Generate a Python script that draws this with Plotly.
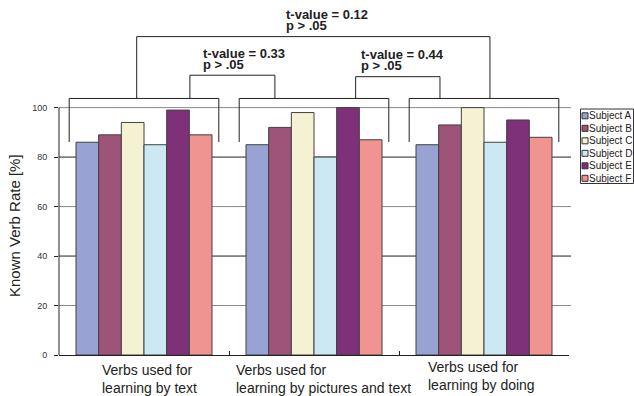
import plotly.graph_objects as go

# Known verb rate [%] per subject for each verb category
categories = [
    "Verbs used for<br>learning by text",
    "Verbs used for<br>learning by pictures and text",
    "Verbs used for<br>learning by doing",
]
subjects = ["Subject A", "Subject B", "Subject C", "Subject D", "Subject E", "Subject F"]
subject_a = [86, 85, 85]
subject_b = [89, 92, 93]
subject_c = [94, 98, 100]
subject_d = [85, 80, 86]
subject_e = [99, 100, 95]
subject_f = [89, 87, 88]
series = [subject_a, subject_b, subject_c, subject_d, subject_e, subject_f]

# Paired t-tests between categories: (first category, second category, t-value)
t_tests = [(0, 1, 0.33), (1, 2, 0.44), (0, 2, 0.12)]
p_text = "p > .05"

y_ticks = [0, 20, 40, 60, 80, 100]

colors = ["#98a3d3", "#9e5478", "#f4f2d3", "#cbe8f3", "#7e3179", "#ef9491"]
outline = "#404040"

# Figure geometry (pixels)
W, H = 634, 396
ML, MR, MT, MB = 59, 65, 0, 41
PW, PH = W - ML - MR, H - MT - MB
Y_MAX = 143.5


def px_x(px):
    return (px - ML) / PW


def px_y(py):
    return (H - MB - py) / PH


fig = go.Figure()
x_pos = list(range(len(categories)))
for name, vals, col in zip(subjects, series, colors):
    fig.add_trace(go.Bar(
        x=x_pos, y=vals, name=name,
        marker=dict(color=col, line=dict(color=outline, width=1)),
        hoverinfo="x+y+name",
    ))

shapes = []
# Horizontal guide lines, alternating grey and black
for i, v in enumerate(y_ticks[1:]):
    shapes.append(dict(
        type="line", xref="paper", yref="y", x0=0, x1=px_x(571), y0=v, y1=v,
        line=dict(color="#222222" if i % 2 == 1 else "#8a8a8a", width=1),
        layer="below",
    ))
# Left axis line, only over the 0-100 range
shapes.append(dict(type="line", xref="paper", yref="y", x0=0, x1=0, y0=0, y1=100,
                   line=dict(color="#222222", width=1)))

line_style = dict(color="#222222", width=1)
GROUP_HALF = 0.44
GROUP_TOP = 103.7
GROUP_LEG = 86.1


def bracket(x0, x1, top, bottom0, bottom1):
    shapes.append(dict(type="path", xref="x", yref="y",
                       path=f"M {x0},{bottom0} L {x0},{top} L {x1},{top} L {x1},{bottom1}",
                       line=line_style))


# Bracket over each category's group of bars
for c in x_pos:
    bracket(c - GROUP_HALF, c + GROUP_HALF, GROUP_TOP, GROUP_LEG, GROUP_LEG)

# Comparison brackets: leg x offsets from category centres, bracket height, label x
comp_layout = {
    (0, 1): dict(dx0=0.27, dx1=-0.23, top=113.1, label_x=0.34),
    (1, 2): dict(dx0=0.245, dx1=-0.259, top=112.5, label_x=1.27),
    (0, 2): dict(dx0=-0.043, dx1=0.035, top=128.7, label_x=0.83),
}

annotations = []
for a, b, t in t_tests:
    cl = comp_layout[(a, b)]
    bracket(a + cl["dx0"], b + cl["dx1"], cl["top"], GROUP_TOP, GROUP_TOP)
    for txt, shift in ((f"t-value = {t:.2f}", 22), (p_text, 11)):
        annotations.append(dict(
            x=cl["label_x"], y=cl["top"], xref="x", yref="y",
            xanchor="left", yanchor="middle", yshift=shift, borderpad=0,
            text=f"<b>{txt}</b>", showarrow=False,
            font=dict(family="Arial, Liberation Sans, sans-serif", size=13, color="#222222"),
        ))

# Category labels under the axis
label_xshift = [5, 9, -3]
label_yshift = [0, 0, 3]
for c, txt, xs, ys in zip(x_pos, categories, label_xshift, label_yshift):
    annotations.append(dict(
        x=c, y=px_y(379), xref="x", yref="paper", xanchor="center", yanchor="middle",
        xshift=xs, yshift=ys, align="left", text=txt, showarrow=False,
        font=dict(family="Arial, Liberation Sans, sans-serif", size=14, color="#222222"),
    ))

# Y axis title
annotations.append(dict(
    x=px_x(14), y=px_y(226), xref="paper", yref="paper", xanchor="center", yanchor="middle",
    text="Known Verb Rate [%]", textangle=-90, showarrow=False,
    font=dict(family="Arial, Liberation Sans, sans-serif", size=15, color="#222222"),
))

# Legend box with compact rows
LEG_L, LEG_R, LEG_T, LEG_B = 580.5, 633.5, 109, 183.5
ROW0, ROW_STEP = 115.8, 12.5
shapes.append(dict(type="rect", xref="paper", yref="paper",
                   x0=px_x(LEG_L), x1=px_x(LEG_R), y0=px_y(LEG_B), y1=px_y(LEG_T),
                   line=dict(color="#333333", width=1), fillcolor="white"))
for i, (name, col) in enumerate(zip(subjects, colors)):
    cy = ROW0 + ROW_STEP * i
    shapes.append(dict(type="rect", xref="paper", yref="paper",
                       x0=px_x(582), x1=px_x(588), y0=px_y(cy + 3), y1=px_y(cy - 3),
                       line=dict(color="#333333", width=1), fillcolor=col))
    annotations.append(dict(
        x=px_x(588), y=px_y(cy), xref="paper", yref="paper", xanchor="left", yanchor="middle",
        text=name, showarrow=False, borderpad=0,
        font=dict(family="Arial, Liberation Sans, sans-serif", size=10, color="#222222"),
    ))

fig.update_layout(
    width=W, height=H,
    margin=dict(l=ML, r=MR, t=MT, b=MB),
    plot_bgcolor="white", paper_bgcolor="white",
    barmode="group", bargap=0.2, bargroupgap=0,
    showlegend=False,
    shapes=shapes, annotations=annotations,
    xaxis=dict(
        range=[-0.5, 2.5], tickvals=[0.5, 1.5, 2.5], ticks="inside", ticklen=4,
        tickcolor="#222222", showticklabels=False, showline=True, linecolor="#222222",
        linewidth=1, showgrid=False, zeroline=False,
    ),
    yaxis=dict(
        range=[0, Y_MAX], tickvals=y_ticks, ticks="outside", ticklen=4,
        tickcolor="#222222", ticklabelstandoff=5,
        tickfont=dict(family="Arial, Liberation Sans, sans-serif", size=9, color="#333333"),
        showgrid=False, zeroline=False, showline=False,
    ),
)

fig.write_html("out.html")
